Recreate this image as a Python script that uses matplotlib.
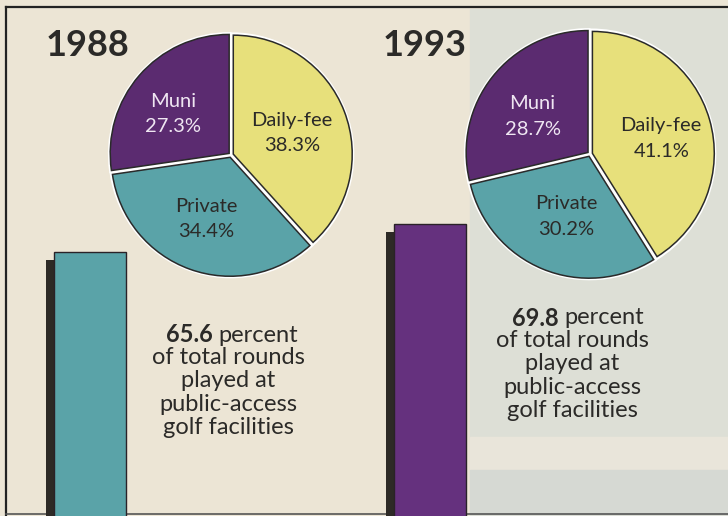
"""
Share of golf rounds by facility type, 1988 vs 1993.
"""
import matplotlib.pyplot as plt
from matplotlib.patches import Rectangle

years = ['1988', '1993']
segments = ['Muni', 'Private', 'Daily-fee']
share_1988 = [27.3, 34.4, 38.3]
share_1993 = [28.7, 30.2, 41.1]
public_access = [65.6, 69.8]

W, H = 728, 516
purple = '#5b2b70'
teal = '#5aa3a8'
yellow = '#e7e07b'
ink = '#2b2a28'
seg_colors = [purple, teal, yellow]
label_colors = ['#efe6f2', ink, ink]

plt.rcParams['font.family'] = ['Lato', 'DejaVu Sans']

fig = plt.figure(figsize=(W / 100, H / 100), dpi=100)

# background (pixel coordinates)
bg = fig.add_axes([0, 0, 1, 1])
bg.set_xlim(0, W)
bg.set_ylim(H, 0)
bg.axis('off')
bg.add_patch(Rectangle((0, 0), W, H, color='#ece5d5', zorder=0))
bg.add_patch(Rectangle((470, 9), W - 470, H, color='#dddfd6', zorder=0))
bg.add_patch(Rectangle((470, 437), W - 470, 33, color='#e9e5da', zorder=0))
bg.add_patch(Rectangle((470, 470), W - 470, 44, color='#d6d9d3', zorder=0))
bg.plot([6, 6], [7, H], color='#222', lw=1.6, zorder=1)
bg.plot([6, W], [7, 7], color='#222', lw=1.6, zorder=1)
bg.plot([6, W], [514, 514], color='#555', lw=1.2, zorder=1)

# bars of public-access share, baseline below the picture
bars = fig.add_axes([0, 0, 1, 1])
bars.patch.set_alpha(0)
bars.axis('off')
px_x = 340.0
px_y = 28 / (public_access[1] - public_access[0])
base = 252 + public_access[0] * px_y
bars.set_xlim(-90 / px_x, (W - 90) / px_x)
bars.set_ylim((base - H) / px_y, base / px_y)
xs = [0, 1]
bw = 72 / px_x
bars.bar([x - 8 / px_x for x in xs], [v - 8 / px_y for v in public_access],
         width=bw, color='#2d2a26', zorder=2)
bars.bar(xs, public_access, width=bw, color=[teal, '#65317e'],
         edgecolor='#2a2228', linewidth=1.0, zorder=3)

# pies
pie_boxes = [(231, 155, 122), (590, 154, 125)]
label_pos = [
    [(-0.475, 0.335), (-0.2, -0.525), (0.5, 0.18)],
    [(-0.46, 0.30), (-0.19, -0.50), (0.57, 0.125)],
]
for shares, (cx, cy, r), lpos in zip([share_1988, share_1993], pie_boxes, label_pos):
    ax = fig.add_axes([(cx - r) / W, 1 - (cy + r) / H, 2 * r / W, 2 * r / H])
    # white separators behind the outlined wedges
    ax.pie(shares, colors=['white'] * 3, startangle=90, counterclock=True,
           explode=[0.01] * 3, radius=0.99,
           wedgeprops=dict(edgecolor='white', linewidth=2))
    ax.pie(shares, colors=seg_colors, startangle=90, counterclock=True,
           explode=[0.02] * 3, radius=0.975,
           wedgeprops=dict(edgecolor='#2a2a2a', linewidth=1.1))
    ax.set_xlim(-1, 1)
    ax.set_ylim(-1, 1)
    ax.set_aspect('auto')
    for name, val, (lx, ly), lc in zip(segments, shares, lpos, label_colors):
        ax.text(lx, ly, f'{name}\n{val:.1f}%', ha='center', va='center',
                fontsize=14.5, color=lc, linespacing=1.62)

# year titles and captions
for yr, (tx, ty) in zip(years, [(88, 46), (425, 46)]):
    bg.text(tx, ty, yr, ha='center', va='center', fontsize=26,
            fontweight='bold', color=ink)

captions = [(215, 335, 228), (561, 318, 572)]
for val, (sx, sy, cx) in zip(public_access, captions):
    bg.text(sx - 2, sy, f'{val:.1f}', ha='right', va='center', fontsize=17,
            fontweight='bold', color=ink)
    bg.text(sx + 3, sy, 'percent', ha='left', va='center', fontsize=17, color=ink)
    bg.text(cx, sy + 12, 'of total rounds\nplayed at\npublic-access\ngolf facilities',
            ha='center', va='top', fontsize=17, color=ink, linespacing=1.14)

fig.savefig('out.png', dpi=100)
